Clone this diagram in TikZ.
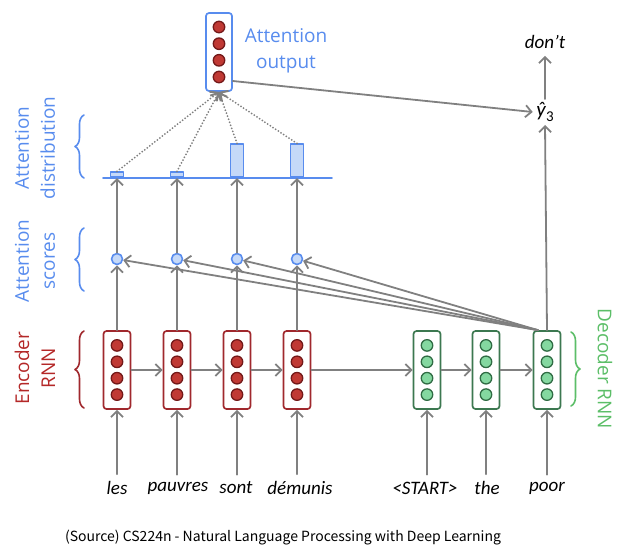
\documentclass[tikz,border=0pt]{standalone}
\usepackage{fontspec}
\setmainfont{Carlito}
\newfontfamily\labelfont{Open Sans}
\newfontfamily\srcfont{Noto Sans CJK KR}
\usetikzlibrary{arrows.meta,positioning,calc,decorations.pathreplacing}
\definecolor{attblue}{RGB}{88,140,238}
\definecolor{barfill}{RGB}{197,217,248}
\definecolor{encred}{RGB}{160,40,45}
\definecolor{encdotfill}{RGB}{192,57,52}
\definecolor{encdotline}{RGB}{115,25,25}
\definecolor{enctext}{RGB}{180,40,40}
\definecolor{decgreen}{RGB}{60,120,80}
\definecolor{decdotfill}{RGB}{132,216,160}
\definecolor{decdotline}{RGB}{48,108,68}
\definecolor{dectext}{RGB}{92,190,104}
\definecolor{arrgray}{RGB}{128,128,128}
\tikzset{
  cellbox/.style={line width=1.7pt,rounded corners=3pt,fill=white,minimum width=27pt,minimum height=78pt,inner sep=0pt},
  enccell/.style={cellbox,draw=encred},
  deccell/.style={cellbox,draw=decgreen},
  outcell/.style={cellbox,draw=attblue,minimum width=26pt},
  encdot/.style={circle,draw=encdotline,fill=encdotfill,line width=1.3pt,minimum size=11.5pt,inner sep=0pt},
  decdot/.style={circle,draw=decdotline,fill=decdotfill,line width=1.3pt,minimum size=11.5pt,inner sep=0pt},
  scoredot/.style={circle,draw=attblue,fill=barfill,line width=1.6pt,minimum size=11pt,inner sep=0pt},
  attbar/.style={draw=attblue,fill=barfill,line width=1.6pt,minimum width=13pt,inner sep=0pt,anchor=south},
  conn/.style={draw=arrgray,line width=1.8pt,->},
  dotconn/.style={draw=arrgray,line width=2pt,dash pattern=on 0pt off 3.2pt,->},
  word/.style={font=\fontsize{19}{22}\selectfont\itshape,inner sep=7pt},
  sidelabel/.style={font=\labelfont\fontsize{19}{26}\selectfont,align=center},
  sidebrace/.style={line width=1.6pt,decorate,decoration={brace,amplitude=9pt}}
}
\begin{document}
\begin{tikzpicture}[x=1pt,y=-1pt,line cap=round,line join=round,>={Straight Barb[length=6pt,width=12pt]}]
\useasboundingbox (0,0) rectangle (628,558);
% encoder and decoder cells
\node[enccell] (e1) at (117,370) {};
\node[enccell] (e2) at (177,370) {};
\node[enccell] (e3) at (237,370) {};
\node[enccell] (e4) at (297,370) {};
\node[deccell] (d1) at (427,370) {};
\node[deccell] (d2) at (486,370) {};
\node[deccell] (d3) at (547,370) {};
\foreach \c in {e1,e2,e3,e4}
  \foreach \dy in {-24.6,-8.2,8.2,24.6}
    \node[encdot] at ([yshift=\dy pt]\c.center) {};
\foreach \c in {d1,d2,d3}
  \foreach \dy in {-24.6,-8.2,8.2,24.6}
    \node[decdot] at ([yshift=\dy pt]\c.center) {};
% attention output
\node[outcell] (a) at (219,52) {};
\foreach \dy in {-25,-8.3,8.3,25}
  \node[encdot] at ([yshift=\dy pt]a.center) {};
\node[sidelabel,text=attblue] (alab) at (286,51) {Attention\\output};
% attention scores
\node[scoredot] (s1) at (117,259) {};
\node[scoredot] (s2) at (177,259) {};
\node[scoredot] (s3) at (237,259) {};
\node[scoredot] (s4) at (297,259) {};
% attention distribution
\draw[attblue,line width=1.6pt] (103,178) -- (332,178);
\node[attbar,minimum height=5pt] (b1) at (117,178) {};
\node[attbar,minimum height=5pt] (b2) at (177,178) {};
\node[attbar,minimum height=33pt] (b3) at (237,178) {};
\node[attbar,minimum height=33pt] (b4) at (297,178) {};
% output
\node[font=\fontsize{21}{24}\selectfont] (yh) at (545,112) {\textit{ŷ}\raisebox{-0.22em}{\fontsize{15}{15}\selectfont 3}};
\node[word] (out) at (545,42) {don’t};
% words
\node[word] (w1) at (117,488) {les};
\node[word] (w2) at (178,488) {pauvres};
\node[word] (w3) at (236,488) {sont};
\node[word] (w4) at (300,488) {démunis};
\node[word] (w5) at (425,488) {<START>};
\node[word] (w6) at (487,488) {the};
\node[word] (w7) at (547,488) {poor};
% connectors
\foreach \i in {1,2,3,4} {
  \draw[conn] (w\i.north -| e\i) -- (e\i.south);
  \draw[conn] (e\i.north) -- (s\i.south);
  \draw[conn] (s\i.north) -- (b\i.south);
  \draw[dotconn] (b\i.north) -- (a.south);
}
\draw[conn] (w5.north -| d1) -- (d1.south);
\draw[conn] (w6.north -| d2) -- (d2.south);
\draw[conn] (w7.north -| d3) -- (d3.south);
\draw[conn] (e1.east) -- (e2.west);
\draw[conn] (e2.east) -- (e3.west);
\draw[conn] (e3.east) -- (e4.west);
\draw[conn] (e4.east) -- (d1.west);
\draw[conn] (d1.east) -- (d2.west);
\draw[conn] (d2.east) -- (d3.west);
\coordinate (q) at ([xshift=-9pt]d3.north);
\foreach \i in {1,2,3,4}
  \draw[conn] (q) -- (s\i);
\draw[conn] (d3.north) -- (yh.south);
\draw[conn] (yh.north) -- (out.south);
\draw[conn] ([yshift=-29pt]a.east) -- (yh.west);
% side labels and braces
\node[sidelabel,text=attblue,rotate=90] (ldist) at (35,148) {Attention\\distribution};
\node[sidelabel,text=attblue,rotate=90] (lscore) at (35,261) {Attention\\scores};
\node[sidelabel,text=enctext,rotate=90] (lenc) at (35,368) {Encoder\\RNN};
\node[sidelabel,text=dectext,rotate=-90] (ldec) at (605,369) {Decoder RNN};
\draw[sidebrace,attblue] (84,178) -- (84,115);
\draw[sidebrace,attblue] (84,291) -- (84,228);
\draw[sidebrace,encred] (84,408) -- (84,331);
\draw[sidebrace,dectext] (571,332) -- (571,406);
% source
\node[font=\srcfont\fontsize{14}{16}\selectfont] (src) at (283,538) {(Source) CS224n - Natural Language Processing with Deep Learning};
\end{tikzpicture}
\end{document}
